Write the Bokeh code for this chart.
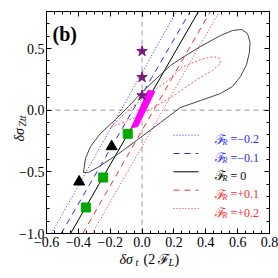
from math import pi
from bokeh.plotting import figure
from bokeh.models import FixedTicker, CustomJSTickFormatter, LinearAxis, Label, Range1d
from bokeh.embed import file_html
from bokeh.resources import INLINE

# ---------------- data ----------------
box_x = [-0.6, 0.8]
box_y = [-1.0, 0.8]
fr_values = [-0.2, -0.1, 0.0, 0.1, 0.2]
fr_texts = ["=\u22120.2", "=\u22120.1", "=  0", "=+0.1", "=+0.2"]
line_y_ends = [-1.0, 0.8]
line_x_bottom = [-0.569, -0.508, -0.449, -0.372, -0.313]
line_x_top = [0.216, 0.302, 0.354, 0.428, 0.485]
line_colors = ["#2a2aff", "#2a2aff", "#000000", "#ff2a2a", "#ff2a2a"]
line_dashes = ["1 2", "6 5", "solid", "6 5", "1 2"]

contour_x = [-0.368, -0.355, -0.324, -0.261, -0.167, -0.085, 0.003, 0.091, 0.178, 0.273,
             0.367, 0.492, 0.568, 0.624, 0.662, 0.678, 0.674, 0.656, 0.618, 0.568,
             0.492, 0.367, 0.241, 0.116, -0.010, -0.154, -0.280, -0.336]
contour_y = [-0.505, -0.392, -0.295, -0.189, -0.076, 0.030, 0.151, 0.257, 0.362, 0.443,
             0.516, 0.605, 0.646, 0.654, 0.622, 0.549, 0.468, 0.370, 0.273, 0.192,
             0.135, 0.078, 0.022, -0.100, -0.222, -0.359, -0.465, -0.505]

inner_x = [-0.198, -0.167, -0.073, 0.053, 0.147, 0.248, 0.367, 0.448, 0.486, 0.492,
           0.442, 0.335, 0.210, 0.084, -0.041, -0.148]
inner_y = [-0.141, -0.100, 0.014, 0.143, 0.224, 0.346, 0.411, 0.435, 0.419, 0.378,
           0.322, 0.241, 0.127, 0.030, -0.060, -0.116]

band_x = [-0.068, -0.027, 0.080, 0.038]
band_y = [-0.145, -0.132, 0.151, 0.162]

square_x = [-0.353, -0.244, -0.090]
square_y = [-0.789, -0.546, -0.192]
triangle_x = [-0.395, -0.191]
triangle_y = [-0.581, -0.295]
star_x = [0.0, 0.0, 0.0]
star_y = [0.478, 0.267, 0.119]

x_ticks = [-0.6, -0.4, -0.2, 0.0, 0.2, 0.4, 0.6, 0.8]
y_ticks = [-1.0, -0.5, 0.0, 0.5]
x_minor = [round(-0.6 + 0.05 * i, 2) for i in range(29)]
y_minor = [round(-1.0 + 0.1 * i, 1) for i in range(19)]

# ---------------- layout: plot box at page pixels x 46..269, y 11..233 ----------------
W = H = 278
BOX_L, BOX_R, BOX_T, BOX_B = 46, 269, 11, 233
sx = (BOX_R - BOX_L) / (box_x[1] - box_x[0])
sy = (BOX_B - BOX_T) / (box_y[1] - box_y[0])

def dx(px):
    return box_x[0] + (px - BOX_L) / sx

def dy(py):
    return box_y[1] - (py - BOX_T) / sy

FONT = "'Liberation Serif'"

p = figure(width=W, height=H, x_range=Range1d(dx(0), dx(W)), y_range=Range1d(dy(H), dy(0)),
           output_backend="svg", toolbar_location=None,
           min_border_left=0, min_border_right=0, min_border_top=0, min_border_bottom=0,
           x_axis_location=None, y_axis_location=None)
p.grid.visible = False
p.outline_line_color = None
p.background_fill_color = "white"
p.border_fill_color = "white"

xt = FixedTicker(ticks=x_ticks, minor_ticks=x_minor)
yt = FixedTicker(ticks=y_ticks, minor_ticks=y_minor)
fmt = CustomJSTickFormatter(code="return tick.toFixed(1).replace('-', '\u2212');")
blank = CustomJSTickFormatter(code="return '';")

def make_axis(ticker, loc, bounds, labels):
    ax = LinearAxis(ticker=ticker, fixed_location=loc, bounds=tuple(bounds))
    ax.major_tick_in = 5
    ax.major_tick_out = 0
    ax.minor_tick_in = 3
    ax.minor_tick_out = 0
    ax.axis_line_color = "black"
    ax.major_tick_line_color = "black"
    ax.minor_tick_line_color = "black"
    ax.major_label_text_font = FONT
    ax.major_label_text_color = "black"
    if labels:
        ax.major_label_text_font_size = "14px"
        ax.major_label_standoff = 2
        ax.formatter = fmt
    else:
        ax.major_label_text_font_size = "0px"
        ax.major_label_standoff = 0
        ax.formatter = blank
    return ax

ax_b = make_axis(xt, box_y[0], box_x, True)
ax_b.major_label_standoff = 3
ax_l = make_axis(yt, box_x[0], box_y, True)
ax_r = make_axis(yt, box_x[1], box_y, False)
ax_t = make_axis(xt, box_y[1], box_x, False)
p.add_layout(ax_b, "below")
p.add_layout(ax_l, "left")
p.add_layout(ax_r, "right")
p.add_layout(ax_t, "above")

# zero reference lines inside the box
p.line([0, 0], box_y, line_color="#9a9a9a", line_dash="5 4", line_width=1)
p.line(box_x, [0, 0], line_color="#9a9a9a", line_dash="5 4", line_width=1)

# family of F_R lines
for xb, xtp, c, d in zip(line_x_bottom, line_x_top, line_colors, line_dashes):
    p.line([xb, xtp], line_y_ends, line_color=c, line_dash=d, line_width=1)

# contours
p.patch(contour_x, contour_y, fill_color=None, line_color="#444444", line_width=1)
p.patch(inner_x, inner_y, fill_color=None, line_color="#ff5a5a", line_dash="2 2", line_width=1)

# magenta band
p.patch(band_x, band_y, fill_color="#ff00ff", line_color="#ff00ff", line_width=1)

# markers
p.scatter(square_x, square_y, marker="square", size=9, fill_color="#00a800", line_color="#00a800")
p.scatter(triangle_x, triangle_y, marker="triangle", size=11, fill_color="black", line_color="black")
p.scatter(star_x, star_y, marker="star", size=11, fill_color="#7a1a7a", line_color="#7a1a7a")

# legend (manual)
leg_rows = [134.7, 153.0, 171.3, 189.7, 208.0]
for py, c, d, txt in zip(leg_rows, line_colors, line_dashes, fr_texts):
    p.line([dx(173), dx(198)], [dy(py), dy(py)], line_color=c, line_dash=d, line_width=1)
    base = dy(py + 4)
    tc = c if c != "#000000" else "black"
    p.add_layout(Label(x=dx(214), y=base, text="\u2131", text_font=FONT, text_font_size="13px",
                       text_color=tc, text_baseline="alphabetic"))
    p.add_layout(Label(x=dx(214), y=base, x_offset=8, y_offset=-3, text="R", text_font=FONT,
                       text_font_size="8px", text_font_style="italic", text_color=tc,
                       text_baseline="alphabetic"))
    p.add_layout(Label(x=dx(214), y=base, x_offset=16, text=txt, text_font=FONT,
                       text_font_size="12px", text_color=tc, text_baseline="alphabetic"))

# panel label
p.add_layout(Label(x=dx(52), y=dy(33), text="(b)", text_font=FONT, text_font_size="20px",
                   text_font_style="bold", text_color="black", text_baseline="alphabetic"))

# x axis label: δσ_t (2ℱ_L)
xb_ = dx(119)
yb_ = dy(259)
for t, off, dyo, size, style in [("\u03b4\u03c3", 0, 0, "14px", "italic"),
                                 ("t", 16, -3, "10px", "italic"),
                                 ("(2", 24, 0, "14px", "normal"),
                                 ("\u2131", 38, 0, "14px", "normal"),
                                 ("L", 49, -3, "10px", "italic"),
                                 (")", 55, 0, "14px", "normal")]:
    p.add_layout(Label(x=xb_, y=yb_, x_offset=off, y_offset=dyo, text=t, text_font=FONT,
                       text_font_size=size, text_font_style=style, text_color="black",
                       text_baseline="alphabetic"))

# y axis label: δσ_Ztt (rotated)
yl_x = dx(19)
yl_y = dy(141)
for t, along, drop, size in [("\u03b4\u03c3", 0, 0, "14px"), ("Ztt", 15, 3, "10px")]:
    p.add_layout(Label(x=yl_x, y=yl_y, x_offset=drop, y_offset=along, angle=pi / 2, text=t,
                       text_font=FONT, text_font_size=size, text_font_style="italic",
                       text_color="black", text_baseline="alphabetic"))

open("out.html", "w").write(file_html(p, INLINE))
